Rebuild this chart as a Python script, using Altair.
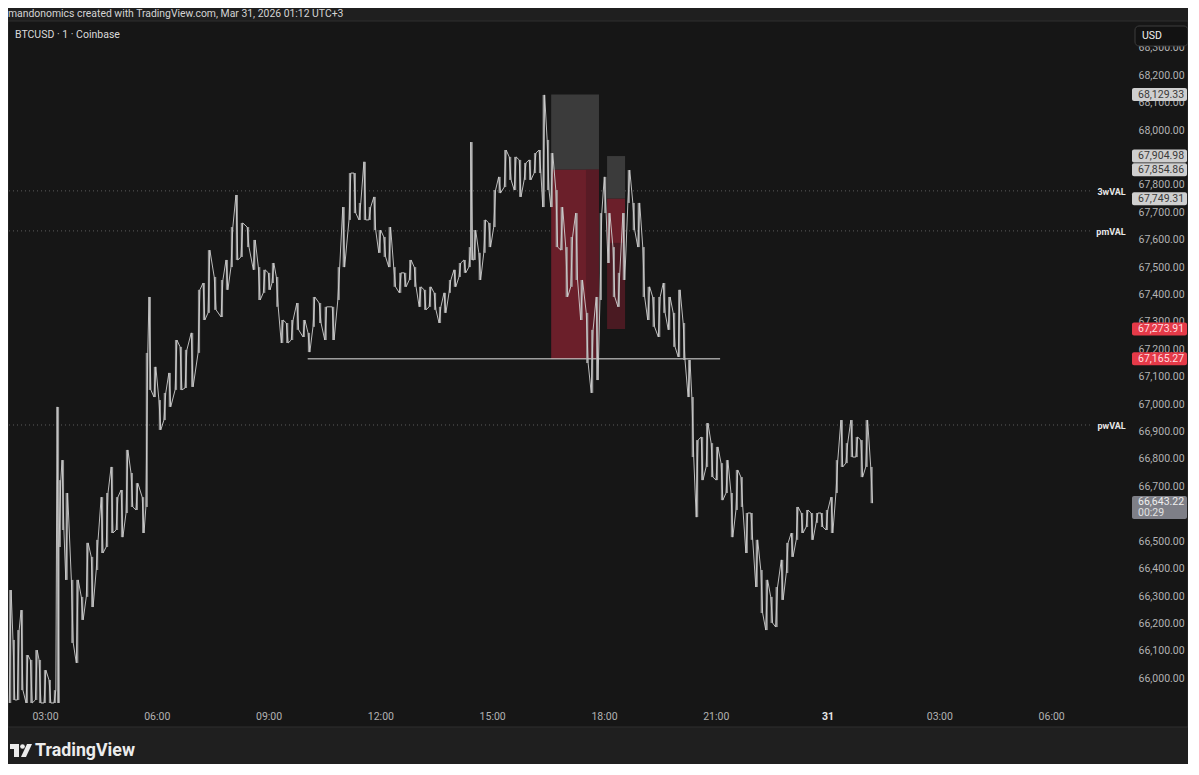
import altair as alt
import pandas as pd

# ---------------- data ----------------
bar_time = ["02:04","02:10","02:17","02:23","02:31","02:38","02:46","02:52","03:00","03:08",
            "03:16","03:21","03:24","03:29","03:35","03:44","03:52","04:00","04:08","04:16",
            "04:24","04:32","04:40","04:48","04:56","05:04","05:12","05:20","05:28","05:38",
            "05:44","05:49","05:57","06:05","06:13","06:21","06:31","06:39","06:47","06:57",
            "07:08","07:16","07:24","07:34","07:45","07:53","08:01","08:09","08:17","08:27",
            "08:37","08:45","08:53","09:01","09:07","09:14","09:22","09:30","09:38","09:47",
            "09:57","10:05","10:13","10:23","10:32","10:44","10:53","11:01","11:11","11:19",
            "11:27","11:35","11:43","11:51","11:59","12:07","12:15","12:23","12:32","12:40",
            "12:48","12:56","13:04","13:12","13:20","13:28","13:36","13:44","13:52","14:00",
            "14:08","14:16","14:24","14:27","14:32","14:40","14:48","14:56","15:04","15:12",
            "15:21","15:29","15:37","15:45","15:53","16:01","16:09","16:17","16:23","16:30",
            "16:36","16:44","16:52","17:00","17:08","17:16","17:24","17:33","17:41","17:49",
            "17:55","18:02","18:08","18:16","18:24","18:32","18:40","18:48","18:56","19:04",
            "19:12","19:20","19:29","19:37","19:45","19:53","20:01","20:09","20:17","20:23",
            "20:30","20:38","20:46","20:54","21:02","21:10","21:18","21:26","21:34","21:42",
            "21:50","21:58","22:06","22:14","22:22","22:30","22:38","22:47","22:55","23:03",
            "23:11","23:19","23:27","23:35","23:43","23:51","23:59","00:07","00:15","00:23",
            "00:31","00:39","00:47","00:55","01:03","01:11"]
bar_high = [66322,66140,66176,66249,66085,66067,66103,66067,66030,65994,
            65957,66990,66723,66796,66676,66359,66359,66297,66494,66443,
            66505,66661,66676,66771,66661,66687,66833,66749,66712,66661,
            67187,67391,67136,67015,67041,67114,67234,67209,67198,67260,
            67417,67442,67562,67464,67453,67526,67646,67763,67661,67646,
            67599,67500,67490,67479,67515,67464,67307,67296,67307,67369,
            67307,67260,67391,67369,67355,67355,67500,67719,67843,67843,
            67734,67884,67719,67756,67635,67610,67646,67500,67479,67479,
            67526,67500,67428,67417,67428,67406,67355,67406,67453,67490,
            67515,67526,67573,67956,67635,67552,67672,67661,67781,67829,
            67927,67902,67902,67891,67880,67891,67916,67927,68128,67964,
            67916,67781,67719,67573,67610,67697,67453,67333,67271,67391,
            67697,67829,67697,67573,67479,67697,67854,67734,67734,67573,
            67428,67391,67391,67442,67391,67333,67417,67296,67161,67026,
            66869,66880,66931,66858,66844,66785,66796,66676,66760,66734,
            66603,66603,66505,66395,66359,66297,66333,66432,66494,66530,
            66625,66603,66614,66603,66603,66603,66614,66661,66796,66942,
            66858,66942,66880,66869,66942,66771]
bar_low = [65910,65921,65921,65957,65910,65910,65921,65910,65910,65910,
           65910,65910,66479,66541,66359,66129,66056,66213,66297,66260,
           66395,66457,66479,66530,66541,66515,66603,66625,66614,66530,
           66625,67052,67026,66906,66942,66990,67052,67052,67059,67063,
           67187,67307,67333,67344,67318,67417,67500,67526,67537,67573,
           67490,67380,67406,67417,67442,67355,67223,67223,67234,67271,
           67245,67190,67282,67296,67234,67234,67380,67500,67672,67697,
           67672,67672,67672,67635,67552,67537,67500,67428,67406,67428,
           67453,67428,67355,67344,67355,67344,67296,67333,67406,67428,
           67464,67479,67500,67526,67526,67453,67552,67573,67646,67770,
           67792,67818,67781,67756,67818,67818,67843,67843,67719,67781,
           67719,67573,67562,67391,67428,67453,67307,67150,67041,67088,
           67380,67697,67515,67391,67355,67453,67734,67635,67573,67391,
           67307,67282,67245,67333,67271,67209,67172,67161,67026,66807,
           66588,66723,66771,66734,66723,66650,66676,66515,66614,66625,
           66457,66505,66333,66238,66176,66202,66187,66286,66384,66443,
           66505,66530,66552,66505,66567,66552,66541,66530,66676,66771,
           66785,66807,66807,66734,66771,66639]

val_names = ["3wVAL", "pmVAL", "pwVAL"]
val_prices = [67778, 67632, 66924]

box_start = ["16:35", "16:35", "17:31", "18:05", "18:05", "18:05"]
box_end = ["17:52", "17:52", "17:52", "18:34", "18:34", "18:34"]
box_top = [68129.33, 67854.86, 67854.86, 67904.98, 67749.31, 67588]
box_bottom = [67854.86, 67165.27, 67165.27, 67749.31, 67588, 67273.91]
box_fill = ["#3b3b3b", "#6b1f2a", "#581b25", "#3b3b3b", "#6b1f2a", "#4a1a22"]

level_price = 67165.27
level_start = "10:03"
level_end = "21:07"

tag_prices = [68129.33, 67904.98, 67854.86, 67749.31, 67273.91, 67165.27]
tag_fill = ["#cfcfcf", "#cfcfcf", "#cfcfcf", "#cfcfcf", "#e53a48", "#e53a48"]
tag_text_color = ["#3a3a3a", "#3a3a3a", "#3a3a3a", "#3a3a3a", "#ffdfe1", "#ffdfe1"]
last_price = 66643.22
last_countdown = "00:29"

x_ticks = [3, 6, 9, 12, 15, 18, 21, 24, 27, 30]
# 67,900 and 66,600 sit fully under price tags in the reference
y_ticks = [v for v in range(66000, 68400, 100) if v not in (67900, 66600)]

X_DOM = [2.035, 32.062]
Y_DOM = [65899, 68394]
VAL_END = 31.04
VAL_LABEL_AT = 32.0

W, H = 1119, 684
FONT = "Roboto"


def hhmm(s):
    h, m = s.split(":")
    return int(h) + int(m) / 60.0


def to_hours(times):
    out, day, prev = [], 0, -1
    for s in times:
        v = hhmm(s)
        if v < prev:
            day += 24
        prev = v
        out.append(v + day)
    return out


bar_hours = to_hours(bar_time)
bars = pd.DataFrame({"t": bar_hours, "hi": bar_high, "lo": bar_low})

zz_t, zz_p, zz_o = [], [], []
for i, (t, h, l) in enumerate(zip(bar_hours, bar_high, bar_low)):
    a, b = (l, h) if i % 2 == 0 else (h, l)
    zz_t += [t - 0.025, t + 0.025]
    zz_p += [a, b]
    zz_o += [2 * i, 2 * i + 1]
zig = pd.DataFrame({"t": zz_t, "p": zz_p, "o": zz_o})

xs = alt.Scale(domain=X_DOM, nice=False, zero=False)
ys = alt.Scale(domain=Y_DOM, nice=False, zero=False)

x_axis = alt.Axis(
    values=x_ticks, title=None, grid=False, domain=False, ticks=False,
    labelExpr="datum.value == 24 ? '31' : ((datum.value % 24) < 10 ? '0' : '') + (datum.value % 24) + ':00'",
    labelColor={"condition": {"test": "datum.value == 24", "value": "#e6e6e6"}, "value": "#b3b3b3"},
    labelFontWeight={"condition": {"test": "datum.value == 24", "value": "bold"}, "value": "normal"},
    labelFont=FONT, labelFontSize=10.5, labelPadding=5, labelOverlap=False, labelFlush=False,
)
y_axis = alt.Axis(
    orient="right", values=y_ticks, format=",.2f", title=None, grid=False, domain=False,
    ticks=False, labelColor="#b3b3b3", labelFont=FONT, labelFontSize=10.5, labelPadding=10,
    labelAlign="left", labelBaseline="middle", labelOverlap=False, labelFlush=False,
)


def X(f):
    return alt.X(f, type="quantitative", scale=xs, axis=x_axis)


def Y(f):
    return alt.Y(f, type="quantitative", scale=ys, axis=y_axis)


one = pd.DataFrame({"k": [0]})


def prect(x, x2, y, y2, **kw):
    return alt.Chart(one).mark_rect(**kw).encode(
        x=alt.value(x), x2=alt.value(x2), y=alt.value(y), y2=alt.value(y2))


def ptext(x, y, txt, **kw):
    return alt.Chart(one).mark_text(**kw).encode(
        x=alt.value(x), y=alt.value(y), text=alt.value(txt))


outer = "#1f1f1f"
frame_layers = [
    prect(-9, W + 80, -30, -1, fill=outer),
    prect(-9, W + 80, 705, 780, fill=outer),
    prect(-9, -1, -1, 705, fill=outer),
    prect(1179, W + 80, -1, 705, fill=outer),
    prect(-1, 1179, -1, 705, fill="#161616", fillOpacity=0, stroke="#2e2e2e", strokeWidth=1),
]

# dotted value-area lines
vals = pd.DataFrame({"name": val_names, "p": val_prices, "t0": X_DOM[0], "t1": VAL_END,
                     "tl": VAL_LABEL_AT})
val_lines = alt.Chart(vals).mark_rule(color="#5c5c5c", strokeDash=[1, 3], strokeWidth=1).encode(
    x=X("t0"), x2="t1", y=Y("p"))
val_labels = alt.Chart(vals).mark_text(
    align="right", baseline="middle", font=FONT, fontSize=9, fontWeight="bold",
    color="#e8e8e8", dy=1).encode(x=X("tl"), y=Y("p"), text="name:N")

# short-position boxes
boxes = pd.DataFrame({"t0": [hhmm(s) for s in box_start], "t1": [hhmm(s) for s in box_end],
                      "top": box_top, "bot": box_bottom, "fill": box_fill})
box_layer = alt.Chart(boxes).mark_rect().encode(
    x=X("t0"), x2="t1", y=Y("top"), y2="bot", fill=alt.Fill("fill:N", scale=None))

level = pd.DataFrame({"t0": [hhmm(level_start)], "t1": [hhmm(level_end)], "p": [level_price]})
level_layer = alt.Chart(level).mark_rule(color="#e6e6e6", strokeWidth=1).encode(
    x=X("t0"), x2="t1", y=Y("p"))

# price series
wicks = alt.Chart(bars).mark_rule(color="#a9a9a9", strokeWidth=2.2, opacity=0.85).encode(
    x=X("t"), y=Y("hi"), y2="lo")
zig_line = alt.Chart(zig).mark_line(color="#cfcfcf", strokeWidth=0.9).encode(
    x=X("t"), y=Y("p"), order="o:Q")

# price tags on the right scale
tags = pd.DataFrame({"p": tag_prices, "fill": tag_fill, "tc": tag_text_color,
                     "label": [f"{v:,.2f}" for v in tag_prices]})
tag_rect = alt.Chart(tags).mark_rect(cornerRadius=2, yOffset=-6.5, y2Offset=6.5).encode(
    x=alt.value(W + 4), x2=alt.value(W + 59), y=Y("p"), y2="p",
    fill=alt.Fill("fill:N", scale=None))
tag_text = alt.Chart(tags).mark_text(align="left", baseline="middle", font=FONT,
                                     fontSize=10.5).encode(
    x=alt.value(W + 10), y=Y("p"), text="label:N", color=alt.Color("tc:N", scale=None))

last = pd.DataFrame({"p": [last_price], "label": [f"{last_price:,.2f}"], "cd": [last_countdown]})
last_rect = alt.Chart(last).mark_rect(cornerRadius=2, yOffset=-6, y2Offset=17,
                                      fill="#7e7f87").encode(
    x=alt.value(W + 4), x2=alt.value(W + 59), y=Y("p"), y2="p")
last_text = alt.Chart(last).mark_text(align="left", baseline="middle", font=FONT, fontSize=10.5,
                                      color="#eeeeee").encode(
    x=alt.value(W + 10), y=Y("p"), text="label:N")
last_cd = alt.Chart(last).mark_text(align="left", baseline="middle", font=FONT, fontSize=10.5,
                                    color="#e2e2e2", dy=11).encode(
    x=alt.value(W + 10), y=Y("p"), text="cd:N")

# USD box
usd_box = prect(1126, 1179, 4, 24, fill="#121212", stroke="#3c3c3c", strokeWidth=1, cornerRadius=4)
usd_txt = ptext(1133, 14, "USD", align="left", baseline="middle", font=FONT, fontSize=10.5,
                color="#f0f0f0")

# header / footer texts
header = ptext(-1, -8, "mandonomics created with TradingView.com, Mar 31, 2026 01:12 UTC+3",
               align="left", baseline="middle", font=FONT, fontSize=10.4, color="#d4d4d4")
symbol = ptext(6, 13, "BTCUSD · 1 · Coinbase", align="left", baseline="middle", font=FONT,
               fontSize=10.5, color="#dadada")
logo_col = "#ececec"
logo = [
    prect(1, 10, 722, 727, fill=logo_col),
    prect(5, 10, 722, 735, fill=logo_col),
    alt.Chart(one).mark_point(shape="circle", filled=True, size=22, color=logo_col, opacity=1).encode(
        x=alt.value(13.5), y=alt.value(724.5)),
    alt.Chart(one).mark_point(shape="M -0.85 1 L -0.08 1 L 0.85 -1 L 0.08 -1 Z", filled=True,
                              size=169, color=logo_col, opacity=1).encode(
        x=alt.value(17.5), y=alt.value(728.5)),
    ptext(26, 729, "TradingView", align="left", baseline="middle", font=FONT, fontSize=17.8,
          fontWeight="bold", color=logo_col),
]

layers = (frame_layers + [val_lines, box_layer, level_layer, wicks, zig_line, val_labels,
                          tag_rect, tag_text, last_rect, last_text, last_cd, usd_box, usd_txt,
                          header, symbol] + logo)

chart = alt.layer(*layers).properties(
    width=W, height=H,
    padding={"left": 1, "top": 14, "right": 60, "bottom": 58},
    autosize=alt.AutoSizeParams(type="none"),
    background="#161616",
).configure_view(stroke=None)

chart.save("out.html", embed_options={"renderer": "svg", "actions": False})
